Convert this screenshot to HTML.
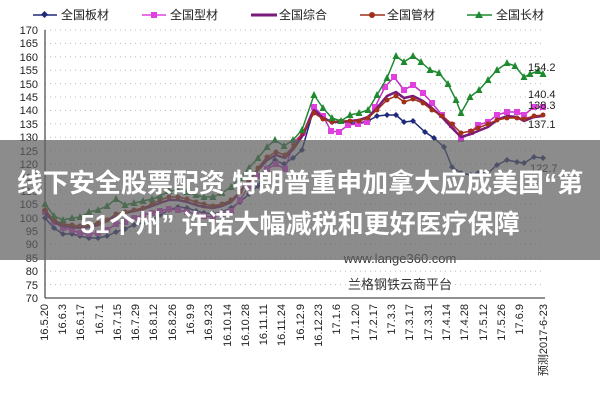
<!DOCTYPE html>
<html><head><meta charset="utf-8"><style>
body{margin:0;background:#fff;}
svg{display:block;font-family:"Liberation Sans","Noto Sans CJK SC",sans-serif;}
</style></head><body>
<svg width="600" height="400" viewBox="0 0 600 400" xmlns="http://www.w3.org/2000/svg">
<defs>
<marker id="mn" markerWidth="6" markerHeight="6" refX="3" refY="3" markerUnits="userSpaceOnUse"><polygon points="3,0 6,3 3,6 0,3" fill="#1f2a7a"/></marker>
<marker id="mm" markerWidth="6" markerHeight="6" refX="3" refY="3" markerUnits="userSpaceOnUse"><rect width="6" height="6" fill="#e040e0"/></marker>
<marker id="mr" markerWidth="6" markerHeight="6" refX="3" refY="3" markerUnits="userSpaceOnUse"><circle cx="3" cy="3" r="2.5" fill="#a03018"/></marker>
<marker id="mg" markerWidth="7" markerHeight="7" refX="3.5" refY="4" markerUnits="userSpaceOnUse"><polygon points="3.5,0 7,7 0,7" fill="#1e8a30"/></marker>
</defs>
<rect width="600" height="400" fill="#fff"/>
<g stroke="#bbb" stroke-dasharray="1,4" stroke-width="1">
<line x1="45" x2="545" y1="30" y2="30"/><line x1="45" x2="545" y1="43.4" y2="43.4"/><line x1="45" x2="545" y1="56.8" y2="56.8"/><line x1="45" x2="545" y1="70.2" y2="70.2"/><line x1="45" x2="545" y1="83.6" y2="83.6"/><line x1="45" x2="545" y1="97" y2="97"/><line x1="45" x2="545" y1="110.4" y2="110.4"/><line x1="45" x2="545" y1="123.8" y2="123.8"/><line x1="45" x2="545" y1="137.2" y2="137.2"/><line x1="45" x2="545" y1="150.6" y2="150.6"/><line x1="45" x2="545" y1="164" y2="164"/><line x1="45" x2="545" y1="177.4" y2="177.4"/><line x1="45" x2="545" y1="190.8" y2="190.8"/><line x1="45" x2="545" y1="204.2" y2="204.2"/><line x1="45" x2="545" y1="217.6" y2="217.6"/><line x1="45" x2="545" y1="231" y2="231"/><line x1="45" x2="545" y1="244.4" y2="244.4"/><line x1="45" x2="545" y1="257.8" y2="257.8"/><line x1="45" x2="545" y1="271.2" y2="271.2"/><line x1="45" x2="545" y1="284.6" y2="284.6"/>
</g>
<line x1="45" y1="30" x2="45" y2="298" stroke="#222"/>
<line x1="45" y1="298" x2="545" y2="298" stroke="#222"/>
<g font-size="11" fill="#222" text-anchor="end">
<text x="38" y="34">170</text><text x="38" y="47">165</text><text x="38" y="61">160</text><text x="38" y="74">155</text><text x="38" y="88">150</text><text x="38" y="101">145</text><text x="38" y="114">140</text><text x="38" y="128">135</text><text x="38" y="141">130</text><text x="38" y="155">125</text><text x="38" y="168">120</text><text x="38" y="181">115</text><text x="38" y="195">110</text><text x="38" y="208">105</text><text x="38" y="222">100</text><text x="38" y="235">95</text><text x="38" y="248">90</text><text x="38" y="262">85</text><text x="38" y="275">80</text><text x="38" y="289">75</text><text x="38" y="302">70</text>
</g>
<g font-size="11" fill="#222" text-anchor="end">
<text transform="translate(48,304) rotate(-90)">16.5.20</text>
<text transform="translate(66,304) rotate(-90)">16.6.3</text>
<text transform="translate(84,304) rotate(-90)">16.6.17</text>
<text transform="translate(103,304) rotate(-90)">16.7.1</text>
<text transform="translate(121,304) rotate(-90)">16.7.15</text>
<text transform="translate(139,304) rotate(-90)">16.7.29</text>
<text transform="translate(157,304) rotate(-90)">16.8.12</text>
<text transform="translate(176,304) rotate(-90)">16.8.26</text>
<text transform="translate(194,304) rotate(-90)">16.9.9</text>
<text transform="translate(212,304) rotate(-90)">16.9.23</text>
<text transform="translate(231,304) rotate(-90)">16.10.14</text>
<text transform="translate(249,304) rotate(-90)">16.10.28</text>
<text transform="translate(267,304) rotate(-90)">16.11.11</text>
<text transform="translate(285,304) rotate(-90)">16.11.24</text>
<text transform="translate(304,304) rotate(-90)">16.12.9</text>
<text transform="translate(322,304) rotate(-90)">16.12.23</text>
<text transform="translate(340,304) rotate(-90)">17.1.6</text>
<text transform="translate(359,304) rotate(-90)">17.1.20</text>
<text transform="translate(377,304) rotate(-90)">17.2.17</text>
<text transform="translate(395,304) rotate(-90)">17.3.3</text>
<text transform="translate(413,304) rotate(-90)">17.3.17</text>
<text transform="translate(432,304) rotate(-90)">17.3.31</text>
<text transform="translate(450,304) rotate(-90)">17.4.14</text>
<text transform="translate(468,304) rotate(-90)">17.4.28</text>
<text transform="translate(487,304) rotate(-90)">17.5.12</text>
<text transform="translate(505,304) rotate(-90)">17.5.26</text>
<text transform="translate(523,304) rotate(-90)">17.6.9</text>
<text transform="translate(547,304) rotate(-90)">预测2017-6-23</text>
</g>
<g fill="none" stroke-width="1.5" stroke-linejoin="round">
<polyline stroke="#1f2a7a" marker-start="url(#mn)" marker-mid="url(#mn)" marker-end="url(#mn)" points="45,218 54,228 63,234 72,234 80,236 89,238 98,238 107,236 116,232 125,229 134,225 143,223 152,220 160,215 169,210 178,207 187,208 196,211 204,213 213,214 222,212 231,208 240,202 249,194 258,186 267,168 275,160 284,164 293,158 302,150 314,108 323,117 332,122 341,121 350,123 359,123 368,121 377,116 387,115 396,115 404,122 413,121 425,132 434,138 444,147 452,167 461,173 471,175 478,173 488,173 497,165 507,160 517,162 524,163 534,157 543,158"/>
<polyline stroke="#c030c0" marker-start="url(#mm)" marker-mid="url(#mm)" marker-end="url(#mm)" points="45,212 54,222 63,228 72,230 80,233 89,234 98,233 107,230 116,224 125,222 134,218 143,215 152,213 160,211 169,209 178,210 187,212 196,214 204,216 213,217 222,214 231,211 240,200 249,186 258,176 267,169 276,164 285,169 294,142 303,133 314,107 323,116 331,131 339,132 348,125 358,124 367,122 375,107 385,87 394,77 404,90 413,85 423,93 432,103 442,115 452,125 461,139 471,132 478,125 488,122 497,115 507,112 517,112 524,115 534,107 543,107"/>
<polyline stroke="#7a1a7a" stroke-width="2.5" points="45,213 54,222 63,226 72,227 80,228 89,227 98,225 107,221 116,216 125,213 134,211 143,209 152,206 160,203 169,200 178,200 187,202 196,205 204,207 213,208 222,206 231,202 240,192 249,180 258,170 267,160 276,155 285,158 294,148 303,135 314,110 323,118 332,122 341,122 350,121 359,120 368,117 377,108 387,96 396,92 404,98 413,96 423,101 432,108 442,117 452,128 461,137 471,134 478,131 488,127 497,120 507,116 517,117 524,121 534,117 543,116"/>
<polyline stroke="#a03018" marker-start="url(#mr)" marker-mid="url(#mr)" marker-end="url(#mr)" points="45,210 54,220 63,224 72,225 80,226 89,225 98,223 107,220 116,214 125,212 134,210 143,208 152,204 160,200 169,197 178,197 187,199 196,202 204,204 213,206 222,204 231,200 240,192 249,180 258,168 267,157 276,152 285,155 294,146 303,132 314,113 323,119 332,122 341,121 350,121 359,121 368,118 377,110 387,100 396,96 404,102 413,99 423,103 432,110 442,116 452,124 461,133 471,131 478,128 488,124 497,120 507,118 517,118 524,119 534,116 543,115"/>
<polyline stroke="#1e8a30" marker-start="url(#mg)" marker-mid="url(#mg)" marker-end="url(#mg)" points="45,204 54,216 63,220 72,218 80,217 89,212 98,210 107,206 116,199 125,205 134,203 143,201 152,199 160,196 169,191 178,190 187,192 196,195 204,197 213,197 222,193 231,187 240,178 249,168 258,158 267,147 275,140 284,146 293,140 302,130 314,95 323,108 332,118 341,121 350,115 359,113 368,110 377,95 387,78 396,56 404,62 413,56 421,62 430,70 439,73 448,84 456,100 461,113 470,97 479,90 488,80 497,70 507,63 515,66 524,77 530,74 538,71 543,74"/>
</g>
<g font-size="11" fill="#222">
<text x="528" y="71">154.2</text><text x="528" y="98">140.4</text><text x="528" y="109">138.3</text><text x="528" y="128">137.1</text><text x="530" y="172">122.7</text>
</g>
<g font-size="12" fill="#222">
<line x1="33" y1="15" x2="57" y2="15" stroke="#1f2a7a" stroke-width="1.5"/><rect x="42" y="12" width="5" height="5" fill="#1f2a7a" transform="rotate(45 44.5 14.5)"/><text x="61" y="19">全国板材</text>
<line x1="142" y1="15" x2="166" y2="15" stroke="#e040e0" stroke-width="1.5"/><rect x="151" y="12" width="6" height="6" fill="#e040e0"/><text x="170" y="19">全国型材</text>
<line x1="251" y1="15" x2="277" y2="15" stroke="#7a1a7a" stroke-width="3"/><text x="279" y="19">全国综合</text>
<line x1="360" y1="15" x2="385" y2="15" stroke="#a03018" stroke-width="1.5"/><circle cx="372" cy="15" r="3" fill="#a03018"/><text x="387" y="19">全国管材</text>
<line x1="467" y1="15" x2="492" y2="15" stroke="#1e8a30" stroke-width="1.5"/><polygon points="479,11 483,18 475,18" fill="#1e8a30"/><text x="496" y="19">全国长材</text>
</g>
<g font-size="13" fill="#333" text-anchor="middle">
<text x="400" y="263">www.lange360.com</text>
<text x="400" y="289">兰格钢铁云商平台</text>
</g>
<rect x="0" y="140" width="600" height="120" fill="rgba(95,95,95,0.72)"/>
<g font-size="26" font-weight="bold" fill="#fff" text-anchor="middle">
<text x="300" y="192">线下安全股票配资 特朗普重申加拿大应成美国“第</text>
<text x="300" y="233">51个州” 许诺大幅减税和更好医疗保障</text>
</g>
</svg>
</body></html>
